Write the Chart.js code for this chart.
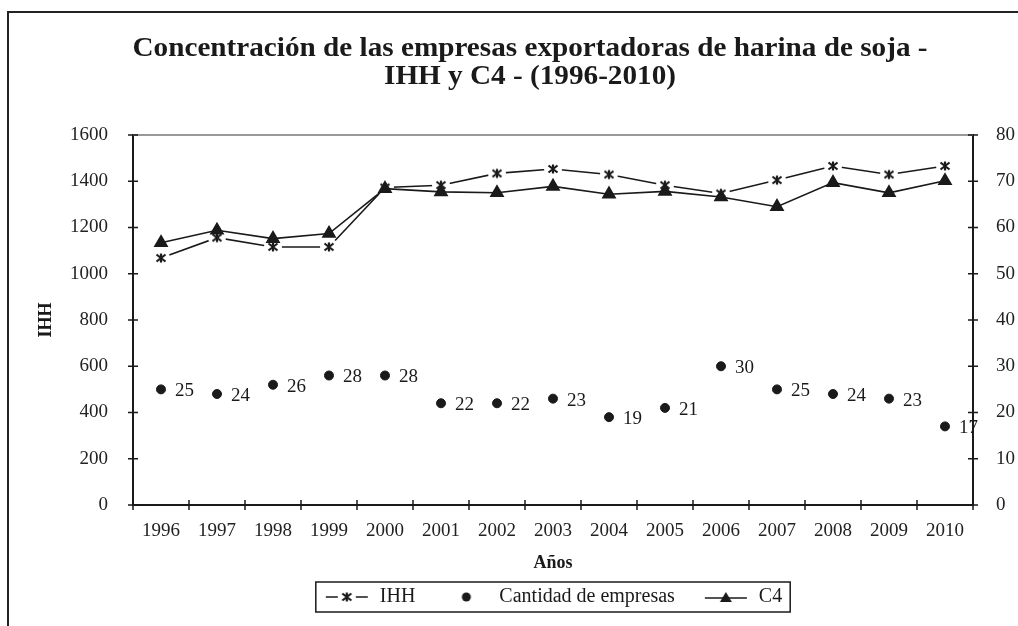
<!DOCTYPE html>
<html>
<head>
<meta charset="utf-8">
<script src="https://cdn.jsdelivr.net/npm/chart.js@4.4.1/dist/chart.umd.min.js"></script>
<style>
    html, body { margin: 0; padding: 0; background: #fff; }
    #caja { width: 1018px; height: 626px; }
</style>
</head>
<body>
<div id="caja"><canvas id="grafico" width="1018" height="626"></canvas></div>
<script>
// datos
var anios = ['1996', '1997', '1998', '1999', '2000', '2001', '2002', '2003',
    '2004', '2005', '2006', '2007', '2008', '2009', '2010'];
var ihh = [1068, 1156, 1116, 1116, 1373, 1383, 1434, 1453, 1429, 1383, 1347, 1405, 1466, 1429, 1466];
var empresas = [25, 24, 26, 28, 28, 22, 22, 23, 19, 21, 30, 25, 24, 23, 17];
var c4 = [56.7, 59.4, 57.6, 58.7, 68.4, 67.7, 67.5, 68.9, 67.2, 67.8, 66.6, 64.5, 69.7, 67.5, 70.1];
var ticksIHH = [0, 200, 400, 600, 800, 1000, 1200, 1400, 1600];
var ticksDerecha = [0, 10, 20, 30, 40, 50, 60, 70, 80];
var titulo = ['Concentración de las empresas exportadoras de harina de soja -', 'IHH y C4 - (1996-2010)'];

var letra = "'Liberation Serif', 'Times New Roman', serif";
var negro = '#1a1a1a';

// marcador estrella de Excel (X + barra), con fondo blanco que corta la linea
function estrella(ancho, conLinea) {
    var c = document.createElement('canvas');
    c.width = ancho;
    c.height = 20;
    var g = c.getContext('2d');
    var cx = ancho / 2, cy = 10;
    g.strokeStyle = negro;
    g.lineWidth = 1.6;
    if (conLinea) {
        g.beginPath();
        g.moveTo(2, cy); g.lineTo(cx - 9, cy);
        g.moveTo(cx + 9, cy); g.lineTo(ancho - 2, cy);
        g.stroke();
    } else {
        g.fillStyle = '#fff';
        g.beginPath();
        g.arc(cx, cy, 9, 0, Math.PI * 2);
        g.fill();
    }
    g.lineWidth = 2.2;
    g.beginPath();
    g.moveTo(cx - 4.5, cy - 3.5); g.lineTo(cx + 4.5, cy + 3.5);
    g.moveTo(cx - 4.5, cy + 3.5); g.lineTo(cx + 4.5, cy - 3.5);
    g.moveTo(cx, cy - 4.5); g.lineTo(cx, cy + 4.5);
    g.stroke();
    return c;
}

function puntoLeyenda() {
    var c = document.createElement('canvas');
    c.width = 46; c.height = 18;
    var g = c.getContext('2d');
    g.fillStyle = negro;
    g.beginPath();
    g.arc(23, 9, 4.5, 0, Math.PI * 2);
    g.fill();
    return c;
}

function trianguloLeyenda() {
    var c = document.createElement('canvas');
    c.width = 46; c.height = 18;
    var g = c.getContext('2d');
    g.strokeStyle = negro;
    g.lineWidth = 1.6;
    g.beginPath();
    g.moveTo(2, 10); g.lineTo(44, 10);
    g.stroke();
    g.fillStyle = negro;
    g.beginPath();
    g.moveTo(23, 4); g.lineTo(29, 14); g.lineTo(17, 14);
    g.closePath();
    g.fill();
    return c;
}

var simbolos = [estrella(46, true), puntoLeyenda(), trianguloLeyenda()];

// ejes con marcas que cruzan la linea, borde gris arriba, marco y titulo
var dibujoExtra = {
    id: 'dibujoExtra',
    afterLayout: function (chart) {
        // la leyenda va centrada bajo el area del grafico, no bajo todo el lienzo
        chart.legend.left += 40;
        chart.legend.right += 40;
    },
    beforeDraw: function (chart) {
        var ctx = chart.ctx;
        ctx.save();
        ctx.fillStyle = '#fff';
        ctx.fillRect(0, 0, chart.width, chart.height);
        ctx.strokeStyle = '#222';
        ctx.lineWidth = 2;
        ctx.beginPath();
        ctx.moveTo(7, 12); ctx.lineTo(chart.width, 12);
        ctx.moveTo(8, 12); ctx.lineTo(8, chart.height);
        ctx.stroke();

        ctx.fillStyle = negro;
        ctx.font = 'bold 28px ' + letra;
        var escala = 795 / ctx.measureText(titulo[0]).width;
        ctx.textAlign = 'center';
        ctx.textBaseline = 'alphabetic';
        titulo.forEach(function (linea, i) {
            ctx.save();
            ctx.translate(530, 56 + i * 28);
            ctx.scale(escala, 1);
            ctx.fillText(linea, 0, 0);
            ctx.restore();
        });
        ctx.restore();
    },
    afterDatasetsDraw: function (chart) {
        var ctx = chart.ctx;
        var area = chart.chartArea;
        var sx = chart.scales.x, sy = chart.scales.y, sy1 = chart.scales.y1;
        ctx.save();
        ctx.strokeStyle = '#999';
        ctx.lineWidth = 2;
        ctx.beginPath();
        ctx.moveTo(area.left, area.top); ctx.lineTo(area.right, area.top);
        ctx.stroke();

        ctx.strokeStyle = negro;
        ctx.lineWidth = 1.5;
        ctx.beginPath();
        ticksIHH.forEach(function (v) {
            var y = sy.getPixelForValue(v);
            ctx.moveTo(area.left - 5, y); ctx.lineTo(area.left + 5, y);
        });
        ticksDerecha.forEach(function (v) {
            var y = sy1.getPixelForValue(v);
            ctx.moveTo(area.right - 5, y); ctx.lineTo(area.right + 5, y);
        });
        var paso = sx.getPixelForTick(1) - sx.getPixelForTick(0);
        for (var i = 0; i <= anios.length; i++) {
            var x = sx.getPixelForTick(0) - paso / 2 + i * paso;
            ctx.moveTo(x, area.bottom - 5); ctx.lineTo(x, area.bottom + 5);
        }
        ctx.stroke();

        // etiquetas de cantidad de empresas
        ctx.fillStyle = negro;
        ctx.font = '19px ' + letra;
        ctx.textAlign = 'left';
        ctx.textBaseline = 'middle';
        chart.getDatasetMeta(1).data.forEach(function (p, i) {
            ctx.fillText(empresas[i], p.x + 14, p.y + 2);
        });

        // recuadro de la leyenda
        var hb = chart.legend.legendHitBoxes;
        if (hb && hb.length) {
            var ult = hb[hb.length - 1];
            ctx.lineWidth = 1.5;
            ctx.strokeStyle = negro;
            ctx.strokeRect(hb[0].left - 8, hb[0].top - 5, ult.left + ult.width - hb[0].left + 16, hb[0].height + 10);
        }
        ctx.restore();
    }
};

var fuenteTicks = { family: letra, size: 19 };
function sinSeparador(v) { return String(v); }

new Chart(document.getElementById('grafico'), {
    type: 'line',
    data: {
        labels: anios,
        datasets: [
            {
                label: 'IHH',
                data: ihh,
                yAxisID: 'y',
                borderColor: negro,
                borderWidth: 1.6,
                pointStyle: estrella(20, false),
                pointRadius: 6,
                order: 2
            },
            {
                label: 'Cantidad de empresas',
                data: empresas,
                yAxisID: 'y1',
                showLine: false,
                pointStyle: 'circle',
                pointRadius: 4.5,
                backgroundColor: negro,
                borderColor: negro,
                order: 1
            },
            {
                label: 'C4',
                data: c4,
                yAxisID: 'y1',
                borderColor: negro,
                borderWidth: 1.6,
                pointStyle: 'triangle',
                pointRadius: 7,
                backgroundColor: negro,
                order: 0
            }
        ]
    },
    options: {
        responsive: false,
        animation: false,
        layout: { padding: { left: 8, right: 0, top: 135, bottom: 9 } },
        plugins: {
            tooltip: { enabled: false },
            title: { display: false },
            legend: {
                position: 'bottom',
                labels: {
                    usePointStyle: true,
                    pointStyleWidth: 46,
                    padding: 28,
                    color: negro,
                    font: { family: letra, size: 20 },
                    generateLabels: function (chart) {
                        var items = Chart.defaults.plugins.legend.labels.generateLabels(chart);
                        items.sort(function (a, b) { return a.datasetIndex - b.datasetIndex; });
                        items.forEach(function (it) {
                            it.pointStyle = simbolos[it.datasetIndex];
                            it.fontColor = negro;
                        });
                        return items;
                    }
                }
            }
        },
        scales: {
            x: {
                offset: true,
                grid: { display: false },
                border: { color: negro, width: 2 },
                ticks: { font: fuenteTicks, color: '#222', padding: 7, maxRotation: 0, autoSkip: false },
                title: { display: true, text: 'Años', color: negro, font: { family: letra, size: 18, weight: 'bold' }, padding: { top: 0, bottom: -14.8 } },
                afterFit: function (s) { s.height = 54; }
            },
            y: {
                position: 'left',
                min: 0,
                max: 1600,
                afterBuildTicks: function (s) { s.ticks = ticksIHH.map(function (v) { return { value: v }; }); },
                grid: { display: false },
                border: { color: negro, width: 2 },
                ticks: { font: fuenteTicks, color: '#222', padding: 17, callback: sinSeparador },
                title: { display: true, text: 'IHH', color: negro, font: { family: letra, size: 18, weight: 'bold' }, padding: { top: 28, bottom: 0 } },
                afterFit: function (s) { s.width = 125; }
            },
            y1: {
                position: 'right',
                min: 0,
                max: 80,
                afterBuildTicks: function (s) { s.ticks = ticksDerecha.map(function (v) { return { value: v }; }); },
                grid: { display: false },
                border: { color: negro, width: 2 },
                ticks: { font: fuenteTicks, color: '#222', padding: 15, callback: sinSeparador },
                afterFit: function (s) { s.width = 45; }
            }
        }
    },
    plugins: [dibujoExtra]
});
</script>
</body>
</html>
